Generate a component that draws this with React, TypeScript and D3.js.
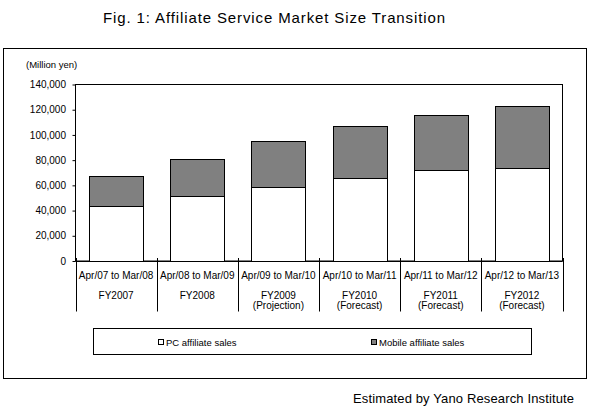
import { useEffect, useRef } from "react";
import * as d3 from "d3";

// fiscal years on the x axis
const periods = [
  "Apr/07 to Mar/08",
  "Apr/08 to Mar/09",
  "Apr/09 to Mar/10",
  "Apr/10 to Mar/11",
  "Apr/11 to Mar/12",
  "Apr/12 to Mar/13",
];
const fiscalYears = ["FY2007", "FY2008", "FY2009", "FY2010", "FY2011", "FY2012"];
const notes = ["", "", "(Projection)", "(Forecast)", "(Forecast)", "(Forecast)"];

// million yen
const pcSales = [44000, 51900, 59000, 66200, 72000, 74100];
const mobileSales = [23800, 29400, 35800, 40500, 44200, 49200];

const yTicks = [0, 20000, 40000, 60000, 80000, 100000, 120000, 140000];

const seriesNames = ["PC affiliate sales", "Mobile affiliate sales"];
const seriesColors = ["#ffffff", "#808080"];

const FONT = "Arial, 'Liberation Sans', sans-serif";

export default function App() {
  const svgRef = useRef<SVGSVGElement>(null);

  useEffect(() => {
    if (!svgRef.current) return;
    const svg = d3.select(svgRef.current);
    svg.selectAll("*").remove();

    const W = 594;
    const H = 410;
    svg.attr("width", W).attr("height", H);

    svg.append("rect").attr("width", W).attr("height", H).attr("fill", "#fff");

    // title
    svg
      .append("text")
      .attr("x", 103)
      .attr("y", 23)
      .attr("textLength", 342)
      .attr("lengthAdjust", "spacing")
      .style("font-family", FONT)
      .style("font-size", "15px")
      .text("Fig. 1: Affiliate Service Market Size Transition");

    // outer frame
    svg
      .append("rect")
      .attr("x", 3.5)
      .attr("y", 48.5)
      .attr("width", 583)
      .attr("height", 330)
      .attr("fill", "none")
      .attr("stroke", "#000")
      .attr("stroke-width", 1);

    const plot = { left: 75.5, right: 562.5, top: 84.5, bottom: 261 };

    const x = d3
      .scaleBand<string>()
      .domain(periods)
      .range([plot.left, plot.right])
      .paddingInner(1 / 3)
      .paddingOuter(1 / 6);

    const y = d3
      .scaleLinear()
      .domain([0, 140000])
      .range([plot.bottom, plot.top]);

    // unit label
    svg
      .append("text")
      .attr("x", 26)
      .attr("y", 68)
      .style("font-family", FONT)
      .style("font-size", "9.5px")
      .text("(Million yen)");

    // plot area border
    svg
      .append("rect")
      .attr("x", plot.left)
      .attr("y", plot.top)
      .attr("width", plot.right - plot.left)
      .attr("height", plot.bottom - plot.top)
      .attr("fill", "none")
      .attr("stroke", "#000");

    // y axis
    const yAxis = svg
      .append("g")
      .attr("transform", `translate(${plot.left},0)`)
      .call(
        d3
          .axisLeft(y)
          .tickValues(yTicks)
          .tickSize(3)
          .tickPadding(6.5)
          .tickFormat((d) => d3.format(",")(d as number))
      );
    yAxis.select(".domain").remove();
    yAxis
      .selectAll("text")
      .style("font-family", FONT)
      .style("font-size", "10px")
      .attr("fill", "#000");
    yAxis.selectAll("line").attr("stroke", "#000");

    // stacked bars
    const rows = periods.map((p, i) => ({ period: p, pc: pcSales[i], mobile: mobileSales[i] }));
    const stack = d3.stack<any>().keys(["pc", "mobile"])(rows);

    stack.forEach((layer, li) => {
      svg
        .append("g")
        .selectAll("rect")
        .data(layer)
        .enter()
        .append("rect")
        .attr("x", (d: any) => Math.round(x(d.data.period)!) + 0.5)
        .attr("width", Math.round(x.bandwidth()))
        .attr("y", (d: any) => Math.round(y(d[1])) + 0.5)
        .attr("height", (d: any) => Math.round(y(d[0])) - Math.round(y(d[1])))
        .attr("fill", seriesColors[li])
        .attr("stroke", "#000")
        .attr("stroke-width", 1);
    });

    // category axis with boundary lines
    const step = x.step();
    const boundaries = d3.range(periods.length + 1).map((i) => plot.left + i * step);
    svg
      .append("line")
      .attr("x1", plot.left)
      .attr("x2", plot.right)
      .attr("y1", plot.bottom + 0.5)
      .attr("y2", plot.bottom + 0.5)
      .attr("stroke", "#000");
    svg
      .append("g")
      .selectAll("line")
      .data(boundaries)
      .enter()
      .append("line")
      .attr("x1", (d) => Math.round(d) + 0.5)
      .attr("x2", (d) => Math.round(d) + 0.5)
      .attr("y1", plot.bottom - 3)
      .attr("y2", 311.5)
      .attr("stroke", "#000");

    const labelRows = [
      { texts: periods, y: 278.5 },
      { texts: fiscalYears, y: 298.5 },
      { texts: notes, y: 309 },
    ];
    labelRows.forEach((row) => {
      svg
        .append("g")
        .selectAll("text")
        .data(row.texts)
        .enter()
        .append("text")
        .attr("x", (_, i) => x(periods[i])! + x.bandwidth() / 2)
        .attr("y", row.y)
        .attr("text-anchor", "middle")
        .style("font-family", FONT)
        .style("font-size", "10px")
        .text((d) => d);
    });

    // legend
    const legend = svg.append("g");
    legend
      .append("rect")
      .attr("x", 93.5)
      .attr("y", 328.5)
      .attr("width", 438)
      .attr("height", 26)
      .attr("fill", "none")
      .attr("stroke", "#000");
    const legendX = [158, 371];
    seriesNames.forEach((name, i) => {
      legend
        .append("rect")
        .attr("x", legendX[i] + 0.5)
        .attr("y", 339.5)
        .attr("width", 5)
        .attr("height", 5)
        .attr("fill", seriesColors[i])
        .attr("stroke", "#000");
      legend
        .append("text")
        .attr("x", legendX[i] + 8)
        .attr("y", 345.5)
        .style("font-family", FONT)
        .style("font-size", "9.5px")
        .text(name);
    });

    // source note
    svg
      .append("text")
      .attr("x", 353)
      .attr("y", 403)
      .attr("textLength", 221)
      .attr("lengthAdjust", "spacing")
      .style("font-family", FONT)
      .style("font-size", "13px")
      .text("Estimated by Yano Research Institute");
  }, []);

  return <svg ref={svgRef} style={{ position: "absolute", left: 0, top: 0, display: "block" }} />;
}
